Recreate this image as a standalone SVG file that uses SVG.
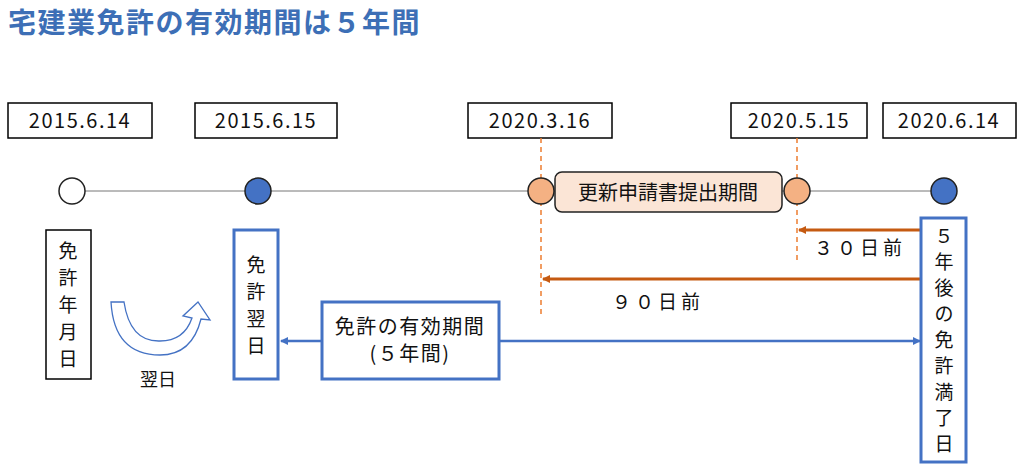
<svg xmlns="http://www.w3.org/2000/svg" width="1024" height="468" viewBox="0 0 1024 468">
<style>
text{font-family:"Noto Sans CJK JP","Noto Sans",sans-serif;fill:#111}
.d{font-size:20px;text-anchor:middle;letter-spacing:1.5px}
.v{font-size:19px;text-anchor:middle}
.bx{fill:#fff;stroke:#000;stroke-width:1.5}
.bb{fill:#fff;stroke:#4472c4;stroke-width:3}
.or{stroke:#c55a11;stroke-width:3;fill:none}
.bl{stroke:#4472c4;stroke-width:2.5;fill:none}
.ds{stroke:#ed7d31;stroke-width:1.5;stroke-dasharray:5 4}
</style>
<defs>
<marker id="ao" markerWidth="8" markerHeight="8" refX="7" refY="4" orient="auto" markerUnits="userSpaceOnUse"><path d="M0,0L8,4L0,8z" fill="#c55a11"/></marker>
<marker id="ab" markerWidth="8" markerHeight="8" refX="7" refY="4" orient="auto" markerUnits="userSpaceOnUse"><path d="M0,0L8,4L0,8z" fill="#4472c4"/></marker>
</defs>
<text x="8" y="33" style="font-size:28px;font-weight:bold;fill:#3d6fb6;letter-spacing:1.5px">宅建業免許の有効期間は５年間</text>
<g id="dates">
<rect class="bx" x="8" y="103" width="144" height="35"/><text class="d" x="80" y="128">2015.6.14</text>
<rect class="bx" x="195" y="103" width="142" height="35"/><text class="d" x="266" y="128">2015.6.15</text>
<rect class="bx" x="468" y="103" width="144" height="35"/><text class="d" x="540" y="128">2020.3.16</text>
<rect class="bx" x="731" y="103" width="136" height="35"/><text class="d" x="799" y="128">2020.5.15</text>
<rect class="bx" x="883" y="103" width="133" height="35"/><text class="d" x="949" y="128">2020.6.14</text>
</g>
<g id="connectors">
<line x1="72" y1="191" x2="944" y2="191" stroke="#777" stroke-width="1"/>
<line class="ds" x1="541" y1="138" x2="541" y2="314"/>
<line class="ds" x1="797" y1="138" x2="797" y2="263"/>
<line class="or" x1="921" y1="230" x2="799" y2="230" marker-end="url(#ao)"/>
<line class="or" x1="921" y1="279" x2="543" y2="279" marker-end="url(#ao)"/>
<line class="bl" x1="322" y1="341" x2="281" y2="341" marker-end="url(#ab)"/>
<line class="bl" x1="499" y1="341" x2="920" y2="341" marker-end="url(#ab)"/>
</g>
<g id="points" stroke="#222" stroke-width="1.5">
<circle cx="72" cy="191" r="13" fill="#fff"/>
<circle cx="258" cy="191" r="13" fill="#4472c4"/>
<circle cx="541" cy="191" r="13" fill="#f4b183"/>
<circle cx="797" cy="191" r="13" fill="#f4b183"/>
<circle cx="944" cy="191" r="13" fill="#4472c4"/>
</g>
<g id="renew"><rect x="555" y="172" width="227" height="40" rx="7" fill="#fbe5d6" stroke="#222" stroke-width="1.5"/><text x="668" y="200" style="font-size:20px;text-anchor:middle">更新申請書提出期間</text></g>
<g id="n1"><rect class="bx" x="46" y="230" width="45" height="149"/>
<text class="v" x="68" y="258">免</text><text class="v" x="68" y="285">許</text><text class="v" x="68" y="312">年</text><text class="v" x="68" y="339">月</text><text class="v" x="68" y="366">日</text></g>
<g id="n2"><rect class="bb" x="234" y="230" width="44" height="149"/>
<text class="v" x="256" y="272">免</text><text class="v" x="256" y="299">許</text><text class="v" x="256" y="326">翌</text><text class="v" x="256" y="353">日</text></g>
<g id="n3"><rect class="bb" x="322" y="302" width="177" height="77"/>
<text class="d" x="410" y="334">免許の有効期間</text><text class="d" x="410" y="361">(５年間)</text></g>
<g id="n4"><rect class="bb" x="921" y="218" width="45" height="244"/>
<text class="v" x="944" y="243">５</text><text class="v" x="944" y="269">年</text><text class="v" x="944" y="295">後</text><text class="v" x="944" y="321">の</text><text class="v" x="944" y="347">免</text><text class="v" x="944" y="373">許</text><text class="v" x="944" y="399">満</text><text class="v" x="944" y="425">了</text><text class="v" x="944" y="451">日</text></g>
<g id="curve">
<path d="M111,302 H124 Q130,342 160,341 Q184,341 192,318 L183,316 L198,302 L210,320 L201,319 Q192,355 160,355 Q114,355 111,302 Z" fill="#fff" stroke="#4472c4" stroke-width="1.3"/>
<text x="158" y="386" style="font-size:18px;text-anchor:middle">翌日</text></g>
<text x="860" y="255" style="font-size:19px;text-anchor:middle;letter-spacing:4px">３０日前</text>
<text x="658" y="309" style="font-size:19px;text-anchor:middle;letter-spacing:4px">９０日前</text>
</svg>
